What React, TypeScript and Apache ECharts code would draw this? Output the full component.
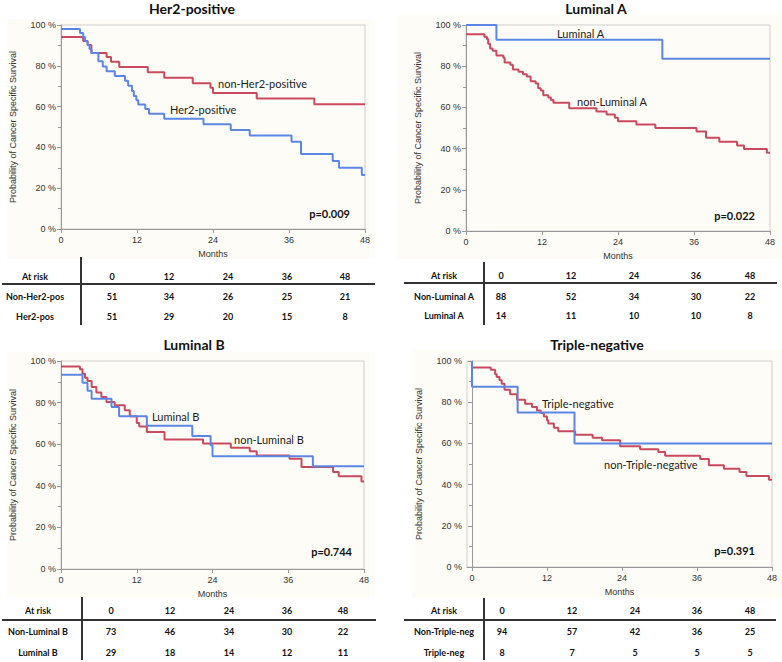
import React, { useEffect, useRef } from "react";
import * as echarts from "echarts";

// ---------- data ----------
const riskTimes = [0, 12, 24, 36, 48];

const panelTitles = ["Her2-positive", "Luminal A", "Luminal B", "Triple-negative"];
const pValues = ["p=0.009", "p=0.022", "p=0.744", "p=0.391"];

// Kaplan-Meier step points [month, survival %]
const nonHer2Pos = [[0,94.1],[3.5,92.2],[4.2,90.2],[4.8,86.3],[7.2,84.3],[7.9,82.0],[9.2,79.4],[13.7,76.8],[16.3,74.2],[20.8,71.5],[23.6,69.2],[24.0,66.7],[30.9,64.0],[40.0,61.2],[48,61.2]];
const her2Pos = [[0,98.0],[3.0,96.1],[3.5,94.1],[3.8,92.2],[4.2,90.2],[4.5,88.2],[4.8,86.3],[5.9,82.2],[6.6,79.7],[7.2,77.3],[8.5,75.0],[10.1,72.7],[10.6,70.2],[11.2,67.6],[11.5,65.2],[11.9,63.1],[12.2,61.0],[13.3,58.8],[13.9,56.5],[16.3,54.0],[22.5,51.3],[26.8,48.5],[29.8,45.8],[36.4,42.8],[37.9,36.8],[42.9,33.3],[43.9,30.0],[47.5,26.5],[48,26.5]];

const nonLuminalA = [[0,95.5],[2.9,94.3],[3.3,93.2],[3.5,90.9],[3.8,88.6],[4.2,87.5],[4.8,85.2],[5.9,84.1],[6.1,81.8],[7.0,80.7],[7.4,78.4],[8.3,77.3],[9.0,76.1],[9.6,75.0],[10.2,72.7],[11.0,71.6],[11.4,69.3],[11.8,68.2],[12.2,65.9],[13.0,64.8],[13.4,63.6],[13.8,62.2],[16.3,59.6],[20.6,58.0],[22.2,56.5],[23.5,55.0],[24.0,53.3],[26.9,51.7],[29.9,50.0],[36.4,48.3],[37.9,45.3],[40.0,43.3],[42.8,41.5],[43.9,39.8],[47.5,38.0],[48,38.0]];
const luminalA = [[0,100],[4.8,92.9],[31.0,83.6],[48,83.6]];

const nonLuminalB = [[0,97.3],[3.0,96.0],[3.4,93.9],[3.8,92.0],[4.2,90.4],[4.85,87.5],[5.6,84.8],[6.4,82.7],[7.2,80.3],[8.5,78.7],[10.1,76.3],[10.9,73.4],[12.0,70.2],[12.4,68.5],[13.6,65.9],[16.4,62.3],[22.5,60.3],[26.9,58.3],[29.9,56.6],[31.0,54.6],[36.2,53.0],[38.1,49.0],[43.1,46.6],[44.0,44.6],[47.6,42.1],[48,42.1]];
const luminalB = [[0,93.4],[3.4,89.6],[4.2,85.7],[4.85,81.9],[8.0,77.9],[9.2,73.4],[13.6,68.9],[20.8,63.9],[23.7,59.5],[24.0,54.2],[39.9,49.4],[48,49.4]];

const nonTripleNeg = [[0,96.8],[3.0,95.7],[3.7,93.6],[3.95,92.2],[4.4,90.6],[4.75,89.0],[5.2,86.0],[6.1,83.8],[7.2,81.2],[8.5,79.3],[9.6,77.7],[10.4,76.0],[11.0,74.8],[11.5,73.1],[12.0,71.2],[12.2,69.6],[13.1,67.6],[13.8,65.9],[16.5,64.2],[19.3,62.8],[20.8,61.5],[23.7,58.6],[26.9,57.1],[29.8,55.8],[30.9,54.0],[36.5,52.4],[37.9,49.4],[40.3,47.7],[42.8,46.1],[43.9,44.2],[47.5,42.4],[48,42.4]];
const tripleNeg = [[0,100],[0,87.5],[7.3,75.0],[16.4,60.0],[48,60.0]];

// curve labels
const curveLabels = [
  ["non-Her2-positive", "Her2-positive"],
  ["non-Luminal A", "Luminal A"],
  ["non-Luminal B", "Luminal B"],
  ["non-Triple-negative", "Triple-negative"],
];

// at-risk table
const riskRowLabels = [
  ["Non-Her2-pos", "Her2-pos"],
  ["Non-Luminal A", "Luminal A"],
  ["Non-Luminal B", "Luminal B"],
  ["Non-Triple-neg", "Triple-neg"],
];
const riskNonHer2 = [51, 34, 26, 25, 21];
const riskHer2 = [51, 29, 20, 15, 8];
const riskNonLumA = [88, 52, 34, 30, 22];
const riskLumA = [14, 11, 10, 10, 8];
const riskNonLumB = [73, 46, 34, 30, 22];
const riskLumB = [29, 18, 14, 12, 11];
const riskNonTN = [94, 57, 42, 36, 25];
const riskTN = [8, 7, 5, 5, 5];

// ---------- layout / style ----------
const RED = "#c94a5e";
const BLUE = "#5b86e5";
const AXIS_FONT = "'Liberation Sans', Arial, sans-serif";
const TXT_FONT = "Lato, 'Open Sans', sans-serif";

const grids = [
  { left: 61, top: 25, width: 304, height: 204, xmin: 0 },
  { left: 466, top: 25, width: 304, height: 206, xmin: 0 },
  { left: 61, top: 361, width: 303, height: 208, xmin: 0 },
  { left: 467, top: 361, width: 305, height: 206, xmin: -0.8 },
];
const bgRects = [
  { x: 7, y: 19, w: 368, h: 240 },
  { x: 397, y: 15, w: 384, h: 244 },
  { x: 7, y: 352, w: 368, h: 246 },
  { x: 412, y: 350, w: 370, h: 248 },
];
const titlePos = [
  { x: 192, y: 8 }, { x: 596, y: 8 }, { x: 194, y: 344 }, { x: 597, y: 344 },
];
const labelPos = [
  [{ x: 218, y: 83 }, { x: 170, y: 109 }],
  [{ x: 577, y: 101 }, { x: 557, y: 33 }],
  [{ x: 234, y: 439 }, { x: 152, y: 416 }],
  [{ x: 604, y: 464 }, { x: 542, y: 403 }],
];
const pPos = [
  { x: 350, y: 213 }, { x: 755, y: 215 }, { x: 352, y: 551 }, { x: 755, y: 550 },
];
const tables = [
  { labelX: 35, cols: [112, 169, 228, 287, 345], hy: 276, ly: 284, r1: 296, r2: 316, lx1: 2, lx2: 375, vx: 81, vy1: 257, vy2: 325 },
  { labelX: 444, cols: [501, 571, 634, 696, 750], hy: 275, ly: 283, r1: 296, r2: 315, lx1: 404, lx2: 777, vx: 484, vy1: 262, vy2: 325 },
  { labelX: 38, cols: [111, 170, 229, 287, 343], hy: 610, ly: 620, r1: 631, r2: 652, lx1: 2, lx2: 376, vx: 82, vy1: 597, vy2: 660 },
  { labelX: 444, cols: [502, 572, 635, 697, 750], hy: 610, ly: 620, r1: 631, r2: 652, lx1: 404, lx2: 776, vx: 484, vy1: 598, vy2: 660 },
];
const tableRows = [
  [riskNonHer2, riskHer2],
  [riskNonLumA, riskLumA],
  [riskNonLumB, riskLumB],
  [riskNonTN, riskTN],
];
const curves = [
  [nonHer2Pos, her2Pos],
  [nonLuminalA, luminalA],
  [nonLuminalB, luminalB],
  [nonTripleNeg, tripleNeg],
];

function buildOption() {
  const graphic: any[] = [];
  bgRects.forEach((r) => {
    graphic.push({ type: "rect", z: -10, silent: true, shape: { x: r.x, y: r.y, width: r.w, height: r.h }, style: { fill: "#fdfcf6" } });
  });
  titlePos.forEach((p, i) => {
    graphic.push({ type: "text", x: p.x, y: p.y, style: { text: panelTitles[i], font: `bold 14px ${TXT_FONT}`, fill: "#111", textAlign: "center", textVerticalAlign: "middle" } });
  });
  labelPos.forEach((pair, i) => {
    pair.forEach((p, j) => {
      graphic.push({ type: "text", x: p.x, y: p.y, style: { text: curveLabels[i][j], font: `11px ${TXT_FONT}`, fill: "#222", textAlign: "left", textVerticalAlign: "middle" } });
    });
  });
  pPos.forEach((p, i) => {
    graphic.push({ type: "text", x: p.x, y: p.y, style: { text: pValues[i], font: `bold 11px ${TXT_FONT}`, fill: "#111", textAlign: "right", textVerticalAlign: "middle" } });
  });
  tables.forEach((t, i) => {
    const f = `bold 9px ${TXT_FONT}`;
    graphic.push({ type: "line", shape: { x1: t.lx1, y1: t.ly, x2: t.lx2, y2: t.ly }, style: { stroke: "#333", lineWidth: 2 } });
    graphic.push({ type: "line", shape: { x1: t.vx, y1: t.vy1, x2: t.vx, y2: t.vy2 }, style: { stroke: "#333", lineWidth: 2 } });
    graphic.push({ type: "text", x: t.labelX, y: t.hy, style: { text: "At risk", font: f, fill: "#111", textAlign: "center", textVerticalAlign: "middle" } });
    graphic.push({ type: "text", x: t.labelX, y: t.r1, style: { text: riskRowLabels[i][0], font: f, fill: "#111", textAlign: "center", textVerticalAlign: "middle" } });
    graphic.push({ type: "text", x: t.labelX, y: t.r2, style: { text: riskRowLabels[i][1], font: f, fill: "#111", textAlign: "center", textVerticalAlign: "middle" } });
    riskTimes.forEach((tm, k) => {
      graphic.push({ type: "text", x: t.cols[k], y: t.hy, style: { text: String(tm), font: f, fill: "#111", textAlign: "center", textVerticalAlign: "middle" } });
      graphic.push({ type: "text", x: t.cols[k], y: t.r1, style: { text: String(tableRows[i][0][k]), font: f, fill: "#111", textAlign: "center", textVerticalAlign: "middle" } });
      graphic.push({ type: "text", x: t.cols[k], y: t.r2, style: { text: String(tableRows[i][1][k]), font: f, fill: "#111", textAlign: "center", textVerticalAlign: "middle" } });
    });
  });

  const grid = grids.map((g) => ({
    left: g.left, top: g.top, width: g.width, height: g.height,
    show: true, borderColor: "#cfcfcf", borderWidth: 1, backgroundColor: "transparent", containLabel: false,
  }));
  const xAxis = grids.map((g, i) => ({
    type: "value", gridIndex: i, min: g.xmin, max: 48,
    name: "Months", nameLocation: "middle", nameGap: 20,
    nameTextStyle: { fontFamily: AXIS_FONT, fontSize: 9, color: "#333" },
    axisLine: { show: true, onZero: false, lineStyle: { color: "#999" } },
    axisTick: { show: true, length: 4, customValues: riskTimes, lineStyle: { color: "#999" } },
    axisLabel: { customValues: riskTimes, fontFamily: AXIS_FONT, fontSize: 9, color: "#333", margin: 6 },
    splitLine: { show: false },
  }));
  const yAxis = grids.map((g, i) => ({
    type: "value", gridIndex: i, min: 0, max: 100, interval: 20,
    name: "Probability of Cancer Specific Survival", nameLocation: "middle", nameGap: 44,
    nameTextStyle: { fontFamily: AXIS_FONT, fontSize: 9, color: "#333" },
    axisLine: { show: true, lineStyle: { color: "#999" } },
    axisTick: { show: true, length: 4, lineStyle: { color: "#999" } },
    minorTick: { show: true, splitNumber: 2, length: 3, lineStyle: { color: "#999" } },
    axisLabel: { formatter: "{value} %", fontFamily: AXIS_FONT, fontSize: 9, color: "#333", margin: 5 },
    splitLine: { show: false },
  }));
  const series: any[] = [];
  curves.forEach((pair, i) => {
    series.push({
      type: "line", step: "end", xAxisIndex: i, yAxisIndex: i, data: pair[0],
      showSymbol: false, symbol: "none", lineStyle: { color: RED, width: 2 }, z: 3,
    });
    series.push({
      type: "line", step: "end", xAxisIndex: i, yAxisIndex: i, data: pair[1],
      showSymbol: false, symbol: "none", lineStyle: { color: BLUE, width: 2 }, z: 4,
    });
  });

  return { animation: false, backgroundColor: "#ffffff", grid, xAxis, yAxis, series, graphic };
}

export default function App() {
  const ref = useRef<HTMLDivElement>(null);
  useEffect(() => {
    if (!ref.current) return;
    const chart = echarts.init(ref.current, undefined, { renderer: "svg" });
    chart.setOption(buildOption() as any);
    return () => chart.dispose();
  }, []);
  return (
    <div
      ref={ref}
      style={{ position: "fixed", left: 0, top: 0, width: 782, height: 662 }}
    />
  );
}
